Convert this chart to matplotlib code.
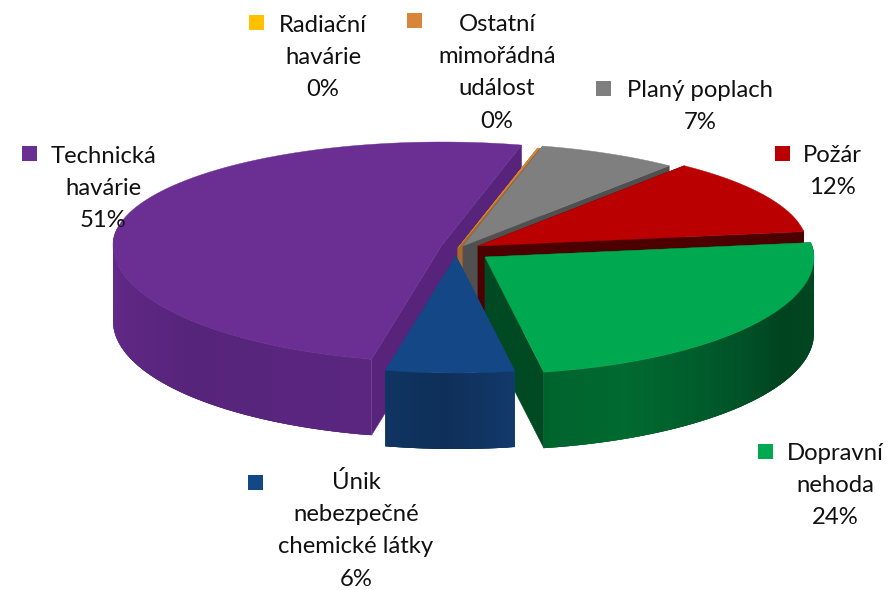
import matplotlib
matplotlib.use('Agg')
import matplotlib.pyplot as plt
import numpy as np

# Data
categories = ['Radiační\nhavárie', 'Ostatní\nmimořádná\nudálost', 'Planý poplach', 'Požár',
              'Dopravní\nnehoda', 'Únik\nnebezpečné\nchemické látky', 'Technická\nhavárie']
values = [0.0, 0.0, 6.9, 12.0, 24.4, 6.3, 50.51]

# Styles: top surface, inner cut face
top_colors = ['#FFC000', '#D9843B', '#7F7F7F', '#BA0000', '#00A84F', '#144785', '#6B2F93']
cut_colors = ['#B58A10', '#A86A2B', '#505050', '#4D0000', '#004A23', '#144785', '#57237B']
# rim shade: (angle, colour) pairs per slice
rim_colors = [
    [(0, '#B58A10'), (360, '#B58A10')],
    [(0, '#A86A2B'), (360, '#A86A2B')],
    [(0, '#505050'), (360, '#505050')],
    [(0, '#4D0000'), (360, '#4D0000')],
    [(82, '#004A23'), (115, '#00431F'), (135, '#00582A'), (155, '#006A30'), (170, '#00632D')],
    [(170, '#12396B'), (182, '#0E2F58'), (192, '#0F3562')],
    [(192, '#5A2680'), (230, '#57247B'), (270, '#632A8A'), (300, '#662B8D'), (374, '#662B8D')],
]

# Layout in pixels of the 888x590 picture
center = (462, 250)
rx, ry_back, ry_front = 329, 103, 117
depth = 76
start_angle = 14
explode = [(-4, -2), (-4, -2), (1, -4), (16, -4), (23, 7), (-6, 6), (-20, -5)]
draw_order = [6, 0, 1, 2, 3, 4, 5]

label_pos = [(323, 32), (497, 31), (700, 97), (832, 162), (835, 460), (356, 489), (103, 163)]
swatch_pos = [(249, 15), (407, 13), (596, 81), (775, 146), (758, 444), (248, 475), (22, 146)]
line_gap = 32.2
font_size = 17.2


def rim_point(apex, theta):
    t = np.radians(theta)
    ry = np.where(np.cos(t) >= 0, ry_back, ry_front)
    return apex[0] + rx * np.sin(t), apex[1] - ry * np.cos(t)


def hex_rgb(c):
    return np.array(matplotlib.colors.to_rgb(c))


def rim_shade(stops, theta):
    angles = [s[0] for s in stops]
    rgb = np.array([hex_rgb(s[1]) for s in stops])
    return [np.interp(theta, angles, rgb[:, i]) for i in range(3)]


def draw_slice(ax, apex, a0, a1, top, cut, stops):
    n = max(int(a1 - a0) * 2, 2)
    th = np.linspace(a0, a1, n)
    x, y = rim_point(apex, th)
    # cut faces
    for px, py in [(x[0], y[0]), (x[-1], y[-1])]:
        ax.fill([apex[0], px, px, apex[0]], [apex[1], py, py + depth, apex[1] + depth],
                color=cut, lw=0.3, zorder=2)
    # outer rim, only the front part can be seen
    # every piece runs under the next one so no seams show
    for i in range(n - 1):
        if np.cos(np.radians(th[i])) > 0.17:
            continue
        c = rim_shade(stops, (th[i] + th[i + 1]) / 2)
        j = min(i + 3, n - 1)
        while j > i + 1 and np.cos(np.radians(th[j])) > 0.17:
            j -= 1
        ax.fill(np.r_[x[i:j + 1], x[i:j + 1][::-1]],
                np.r_[y[i:j + 1], y[i:j + 1][::-1] + depth],
                color=c, lw=0, zorder=2)
    # top surface
    ax.fill(np.r_[apex[0], x], np.r_[apex[1], y], color=top, lw=0.3, zorder=2)


def main():
    fig = plt.figure(figsize=(8.88, 5.90), dpi=100)
    ax = fig.add_axes([0, 0, 1, 1])
    ax.set_xlim(0, 888)
    ax.set_ylim(590, 0)
    ax.axis('off')

    total = sum(values)
    spans = [v / total * 360 for v in values]
    starts = start_angle + np.cumsum([0] + spans[:-1])

    for i in draw_order:
        apex = (center[0] + explode[i][0], center[1] + explode[i][1])
        a0, a1 = starts[i], starts[i] + spans[i]
        if spans[i] == 0:
            # empty slices still show as a thin line
            a1 = a0 + 0.35
        draw_slice(ax, apex, a0, a1, top_colors[i], cut_colors[i], rim_colors[i])

    # Labels
    for i, name in enumerate(categories):
        text = name + '\n' + str(int(round(values[i]))) + '%'
        x, y = label_pos[i]
        for k, line in enumerate(text.split('\n')):
            ax.text(x, y + k * line_gap, line, ha='center', va='baseline', family='Lato',
                    fontsize=font_size, color='#111111', zorder=5)
        sx, sy = swatch_pos[i]
        ax.fill([sx, sx + 15, sx + 15, sx], [sy, sy, sy + 15, sy + 15], color=top_colors[i],
                lw=0, zorder=5)

    fig.savefig('out.png', dpi=100)


if __name__ == "__main__":
    main()
